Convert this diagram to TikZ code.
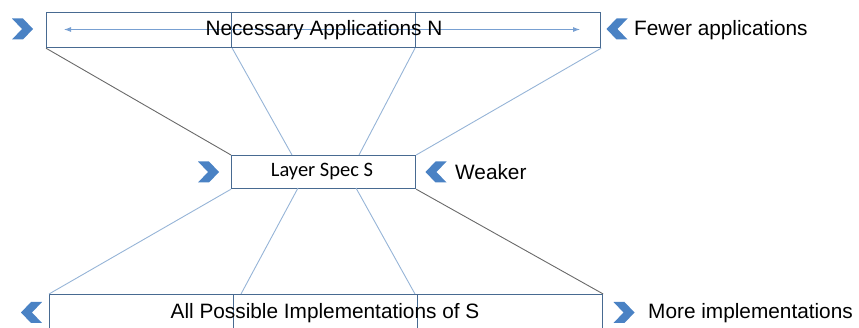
\documentclass[tikz,border=0pt]{standalone}
\usepackage{fontspec}
\setmainfont{Liberation Sans}
\newfontfamily\calibrifont{Carlito}
\usetikzlibrary{arrows.meta}
\definecolor{boxblue}{RGB}{72,106,145}
\definecolor{lightline}{RGB}{150,180,215}
\definecolor{darkline}{RGB}{105,105,105}
\definecolor{chevfill}{RGB}{74,130,196}
\definecolor{arrowblue}{RGB}{120,160,210}
\begin{document}
\begin{tikzpicture}[x=1pt,y=-1pt,
  box/.style={draw=boxblue,line width=1.2pt,rectangle,inner sep=0,anchor=north west},
  lbl/.style={inner sep=0,font=\fontsize{20.8}{24}\selectfont,text=black},
  light/.style={draw=lightline,line width=0.9pt},
  dark/.style={draw=darkline,line width=0.9pt},
  chevron/.pic={\fill[chevfill] (-10.5,-10.5)--(0.5,-10.5)--(10.5,0)--(0.5,10.5)--(-10.5,10.5)--(-0.5,0)--cycle;}
]
\useasboundingbox (0,0) rectangle (859,328);
\clip (0,0) rectangle (859,328);
% boxes
\node[box,minimum width=554pt,minimum height=35pt] (top) at (46,12) {};
\node[box,minimum width=185pt,minimum height=35pt] (topL) at (46,12) {};
\node[box,minimum width=185pt,minimum height=35pt] (topR) at (415,12) {};
\node[box,minimum width=184pt,minimum height=33pt] (mid) at (231,155) {};
\node[box,minimum width=553pt,minimum height=50pt] (bot) at (49,294) {};
\node[box,minimum width=184pt,minimum height=50pt] (botL) at (49,294) {};
\node[box,minimum width=185pt,minimum height=50pt] (botR) at (417,294) {};
% helper points
\coordinate (la) at (64,29.5);
\coordinate (ra) at (580,29.5);
\coordinate (m1) at (292,155);
\coordinate (m2) at (359,155);
\coordinate (m3) at (298,188);
\coordinate (m4) at (356,188);
\coordinate (b1) at (241,294);
\coordinate (b2) at (415,294);
% arrow in top box
\draw[arrowblue,line width=0.8pt,{Latex[length=7pt,width=5pt]}-{Latex[length=7pt,width=5pt]}] (la) -- (ra);
% connectors
\draw[dark] (top.south west) -- (mid.north west);
\draw[light] (topL.south east) -- (m1);
\draw[light] (topR.south west) -- (m2);
\draw[light] (top.south east) -- (mid.north east);
\draw[light] (mid.south west) -- (bot.north west);
\draw[light] (m3) -- (b1);
\draw[light] (m4) -- (b2);
\draw[dark] (mid.south east) -- (bot.north east);
% texts
\node[lbl] (ttop) at (324,30.5) {Necessary Applications N};
\node[lbl,font=\calibrifont\fontsize{20.5}{24}\selectfont] (tmid) at (322,172) {Layer Spec S};
\node[lbl] (tbot) at (325,313.5) {All Possible Implementations of S};
\node[lbl,anchor=west] (tfew) at (634,30.5) {Fewer applications};
\node[lbl,anchor=west] (tweak) at (455,172.5) {Weaker};
\node[lbl,anchor=west] (tmore) at (648,313.5) {More implementations};
% chevrons
\pic at (22.5,29) {chevron};
\pic[xscale=-1] at (617,29) {chevron};
\pic at (208.5,172) {chevron};
\pic[xscale=-1] at (436,172) {chevron};
\pic[xscale=-1] at (31.5,312.5) {chevron};
\pic at (624,312.5) {chevron};
\end{tikzpicture}
\end{document}
